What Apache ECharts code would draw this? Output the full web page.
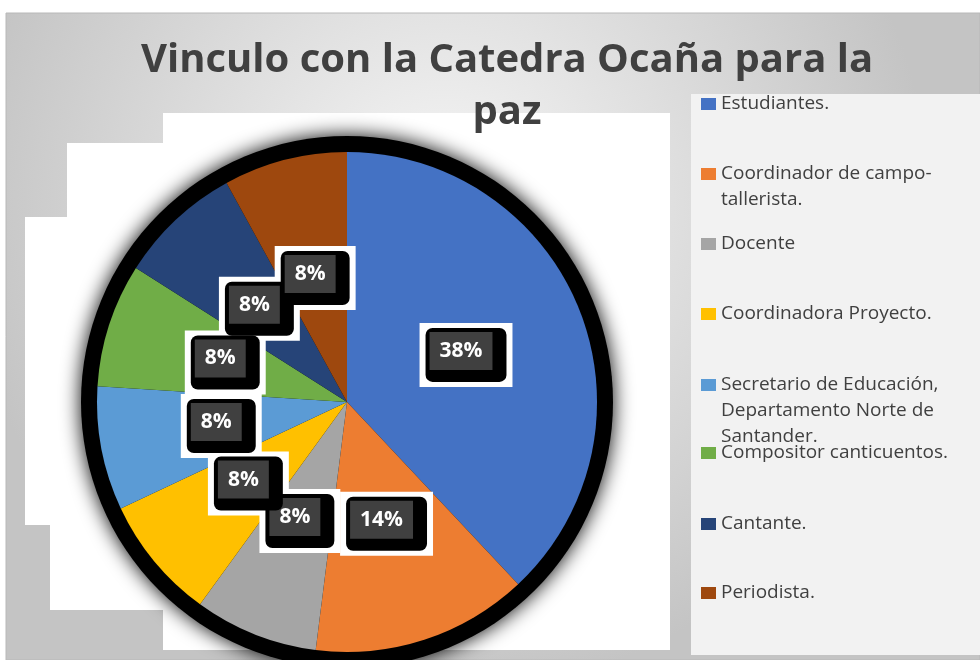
<!DOCTYPE html>
<html>
<head>
<meta charset="utf-8">
<script src="https://cdn.jsdelivr.net/npm/echarts@6/dist/echarts.min.js"></script>
<style>
  html, body { margin: 0; padding: 0; background: #fff; }
  #chart { width: 980px; height: 660px; }
</style>
</head>
<body>
<div id="chart"></div>
<script>
const categories = [
  'Estudiantes.',
  'Coordinador de campo-tallerista.',
  'Docente',
  'Coordinadora Proyecto.',
  'Secretario de Educación, Departamento Norte de Santander.',
  'Compositor canticuentos.',
  'Cantante.',
  'Periodista.'
];
// legend text as wrapped in the picture
const legendLabels = [
  'Estudiantes.',
  'Coordinador de campo-\ntallerista.',
  'Docente',
  'Coordinadora Proyecto.',
  'Secretario de Educación,\nDepartamento Norte de\nSantander.',
  'Compositor canticuentos.',
  'Cantante.',
  'Periodista.'
];
const percents = [38, 14, 8, 8, 8, 8, 8, 8];
const colors = ['#4472c4', '#ed7d31', '#a5a5a5', '#ffc000', '#5b9bd5', '#70ad47', '#264478', '#9e480e'];

const chart = echarts.init(document.getElementById('chart'));

const pieData = categories.map((name, i) => ({ name: name, value: percents[i] }));
const center = [347, 402];
const radius = 250;
const pctText = p => Math.round(p.percent) + '%';

// legend marker centres (y) on the right panel
const legendY = [104, 174, 244, 314, 385, 453, 524, 593];
const lh = 26;
const legends = categories.map((name, i) => {
  const n = legendLabels[i].split('\n').length;
  return {
    data: [name],
    orient: 'vertical',
    left: 701,
    top: legendY[i] - (2 * n - 1) * lh / 2,
    padding: 0,
    itemWidth: 15,
    itemHeight: 12,
    icon: 'rect',
    selectedMode: false,
    formatter: () => '\n'.repeat(n - 1) + legendLabels[i],
    textStyle: { fontFamily: 'Open Sans', fontSize: 19, color: '#404040', lineHeight: lh }
  };
});

const option = {
  backgroundColor: '#fff',
  color: colors,
  title: {
    text: 'Vinculo con la Catedra Ocaña para la\npaz',
    left: 502,
    top: 30,
    textAlign: 'center',
    textStyle: { fontFamily: 'Open Sans', fontWeight: 'bold', fontSize: 40, color: '#404040', lineHeight: 52 }
  },
  legend: legends,
  graphic: [
    {
      type: 'rect', z: -10, silent: true,
      shape: { x: 6, y: 13, width: 974, height: 647 },
      style: {
        fill: new echarts.graphic.RadialGradient(0.45, 0.3, 0.75, [
          { offset: 0, color: '#f7f7f7' },
          { offset: 1, color: '#c4c4c4' }
        ]),
        stroke: '#b8b8b8', lineWidth: 1
      }
    },
    { type: 'rect', z: -9, silent: true, shape: { x: 163, y: 113, width: 507, height: 537 }, style: { fill: '#fff' } },
    { type: 'rect', z: -9, silent: true, shape: { x: 67, y: 143, width: 603, height: 467 }, style: { fill: '#fff' } },
    { type: 'rect', z: -9, silent: true, shape: { x: 25, y: 217, width: 645, height: 308 }, style: { fill: '#fff' } },
    { type: 'rect', z: -9, silent: true, shape: { x: 50, y: 525, width: 620, height: 85 }, style: { fill: '#fff' } },
    { type: 'rect', z: -9, silent: true, shape: { x: 691, y: 94, width: 289, height: 561 }, style: { fill: '#f2f2f2' } },
    {
      type: 'circle', z: -8, silent: true,
      shape: { cx: center[0], cy: center[1], r: radius + 16 },
      style: { fill: '#000', shadowBlur: 20, shadowColor: '#000' }
    }
  ],
  series: [
    {
      type: 'pie',
      z: 2,
      center: center,
      radius: radius,
      startAngle: 90,
      data: pieData,
      label: { show: false },
      labelLine: { show: false },
      itemStyle: { borderWidth: 0 }
    },
    {
      // white backing boxes of the data labels
      type: 'pie',
      z: 3,
      silent: true,
      center: center,
      radius: radius,
      startAngle: 90,
      data: pieData,
      itemStyle: { color: 'rgba(0,0,0,0)' },
      labelLine: { show: false },
      labelLayout: { hideOverlap: false },
      label: {
        show: true,
        position: 'inside',
        formatter: pctText,
        fontFamily: 'Open Sans',
        fontWeight: 'bold',
        fontSize: 21,
        lineHeight: 20,
        color: 'rgba(0,0,0,0)',
        backgroundColor: '#fff',
        padding: [22, 25]
      }
    },
    {
      // black rounded box with the grey inset holding the percentage
      type: 'pie',
      z: 4,
      silent: true,
      center: center,
      radius: radius,
      startAngle: 90,
      data: pieData,
      itemStyle: { color: 'rgba(0,0,0,0)' },
      labelLine: { show: false },
      labelLayout: { hideOverlap: false },
      label: {
        show: true,
        position: 'inside',
        formatter: p => '{g|' + pctText(p) + '}',
        backgroundColor: '#000',
        borderRadius: 7,
        padding: [4, 14, 12, 4],
        rich: {
          g: {
            fontFamily: 'Open Sans',
            fontWeight: 'bold',
            fontSize: 21,
            lineHeight: 38,
            height: 38,
            color: '#fff',
            backgroundColor: '#404040',
            padding: [0, 10]
          }
        }
      }
    }
  ]
};

chart.setOption(option);

window.onresize = function () {
  chart.resize();
};
</script>
</body>
</html>
